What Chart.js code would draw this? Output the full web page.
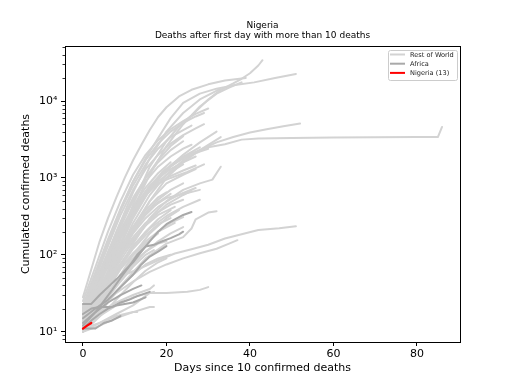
<!DOCTYPE html>
<html>
<head>
<meta charset="utf-8">
<script src="https://cdn.jsdelivr.net/npm/chart.js@4.4.1/dist/chart.umd.min.js"></script>
<style>
html, body { margin: 0; padding: 0; background: #fff; }
#wrap { width: 512px; height: 384px; }
</style>
</head>
<body>
<div id="wrap"><canvas id="myChart" width="512" height="384"></canvas></div>
<script>
// [day, cumulated deaths]
const restOfWorld = [
    [[0,12],[4,30],[8,120],[12,450],[16,1400],[20,3000],[23,4700],[26,6500],[30,10500],[33,14000],[36,17000],[38,19500],[40,23000],[42,29000],[43,34000]],
    [[0,28],[2,65],[4,150],[6,300],[8,560],[10,1000],[12,1700],[14,2700],[16,4200],[18,6200],[20,8300],[23,11500],[26,14000],[30,16500],[34,18500],[39,20000]],
    [[0,20],[3,50],[6,140],[9,380],[12,900],[15,1800],[18,3300],[21,6000],[24,9500],[28,12500],[32,14500],[36,16000],[41,17500],[46,20000],[51,22500]],
    [[0,15],[4,40],[8,130],[12,400],[16,1100],[20,2600],[24,5000],[28,8500],[32,12500],[35,15000],[38,17500]],
    [[0,18],[4,55],[8,200],[12,650],[16,1800],[20,4000],[24,7000],[28,10500],[33,14500]],
    [[0,12],[4,30],[8,90],[12,260],[16,600],[20,1100],[24,1700],[28,2300],[32,2900],[36,3400],[40,3900],[44,4300],[48,4700],[52,5100]],
    [[0,13],[4,35],[8,110],[12,320],[16,750],[19,1200],[22,1600],[26,2100],[30,2500],[34,2750],[38,3150],[42,3250],[50,3300],[60,3350],[70,3380],[80,3400],[85,3400],[86,4600]],
    [[0,20],[3,50],[6,130],[9,330],[12,700],[15,1300],[18,2000],[21,2800],[24,3600],[27,4400],[29,5000]],
    [[0,14],[4,35],[8,100],[12,300],[16,700],[20,1300],[24,2000],[28,2900],[32,4000]],
    [[0,11],[4,25],[8,70],[12,200],[16,500],[20,1000],[24,1600],[28,2300],[33,3400]],
    [[0,16],[4,45],[8,140],[12,380],[16,700],[20,1000],[24,1250],[27,1450]],
    [[0,12],[4,28],[8,80],[12,230],[16,500],[20,850],[24,1100],[27,1300]],
    [[0,10],[4,22],[8,55],[12,140],[16,300],[20,500],[24,700],[28,850],[31,950],[33,1400]],
    [[0,15],[4,35],[8,90],[12,220],[16,400],[20,550],[24,620],[28,700]],
    [[0,22],[3,45],[6,100],[9,200],[12,380],[15,600],[18,850],[21,1000],[25,1200],[29,1500]],
    [[0,13],[4,28],[8,65],[12,130],[16,220],[20,320],[24,420],[28,520]],
    [[0,11],[5,22],[10,45],[15,90],[20,140],[24,170],[26,220],[27,290],[30,355],[32,370]],
    [[0,21],[3,32],[6,42],[10,55],[14,68],[18,85],[22,104],[26,118],[30,135],[34,163],[38,185],[42,210],[47,222],[51,235]],
    [[0,12],[4,20],[8,32],[12,45],[16,60],[20,75],[24,90],[28,105],[32,120],[35,140],[37,155]],
    [[0,10],[4,13],[8,17],[12,22],[16,32],[20,32],[25,33],[28,35],[30,38]],
    [[0,10],[4,12],[8,15],[12,18],[16,21],[17,21]],
    [[0,11],[4,13],[8,16],[12,18],[13,18]],
    [[0,12],[4,16],[8,22],[12,28],[16,32],[17,33]],
    [[0,14],[4,18],[8,24],[12,30],[16,36],[17,40]],
    [[0,13],[3,30],[6,75],[9,170],[12,350],[15,600],[18,900],[21,1200],[24,1500]],
    [[0,10],[3,20],[6,45],[9,100],[12,200],[15,330],[18,480],[21,620]],
    [[0,18],[3,40],[6,100],[9,240],[12,500],[15,900],[18,1400],[21,1900],[24,2400],[26,2700]],
    [[0,12],[3,22],[6,40],[9,70],[12,120],[15,180],[18,250],[21,300]],
    [[0,15],[3,35],[6,70],[9,130],[12,230],[15,380],[18,560],[20,650]],
    [[0,11],[3,18],[6,30],[9,50],[12,80],[15,110],[18,140],[20,150]],
    [[0,20],[3,55],[6,150],[9,380],[12,800],[15,1500],[18,2400],[21,3400],[24,4200],[26,4800]],
    [[0,10],[3,16],[6,28],[9,45],[12,70],[15,100],[17,115]],
    [[0,14],[3,28],[6,55],[9,100],[12,170],[15,260],[18,360],[21,450],[24,520]],
    [[0,16],[3,40],[6,95],[9,210],[12,420],[15,750],[18,1150],[21,1600]],
    [[0,12],[3,25],[6,50],[9,95],[12,160],[15,240],[18,330],[22,420]],
    [[0,25],[3,70],[6,200],[9,500],[12,1100],[15,2000],[18,3100],[21,4300],[24,5500],[27,6800],[30,8000]],
    [[0,11],[3,18],[6,32],[9,55],[12,90],[15,140],[18,200],[21,260],[24,310]],
    [[0,13],[3,24],[6,42],[9,75],[12,130],[15,200],[18,290],[21,380]],
    [[0,17],[3,45],[6,110],[9,260],[12,550],[15,1000],[18,1600],[21,2300],[24,3000]],
    [[0,10],[3,15],[6,24],[9,38],[12,55],[15,75],[18,90],[21,100]],
    [[0,12],[3,20],[6,36],[9,65],[12,100],[15,140],[18,190]],
    [[0,19],[3,45],[6,100],[9,200],[12,380],[15,650],[18,1000],[21,1300],[24,1600],[27,1900]],
    [[0,14],[3,32],[6,75],[9,160],[12,320],[15,580],[18,950],[21,1400],[24,1900],[28,2500]],
    [[0,11],[3,22],[6,48],[9,100],[12,200],[15,350],[18,520],[21,700],[24,850]],
    [[0,10],[3,14],[6,20],[9,30],[12,44],[15,62],[18,80],[20,90]],
    [[0,15],[3,30],[6,60],[9,110],[12,190],[15,300],[18,420],[21,530],[24,640],[27,740]],
    [[0,13],[3,35],[6,90],[9,230],[12,520],[15,1000],[18,1700],[21,2600],[24,3500]],
    [[0,22],[3,60],[6,160],[9,400],[12,900],[15,1700],[18,2800],[21,4000],[24,5200],[27,6300],[29,7000]],
    [[0,12],[3,19],[6,30],[9,48],[12,75],[15,110],[18,150],[21,190],[24,230]],
    [[0,16],[3,26],[6,42],[9,68],[12,105],[15,150],[18,200],[22,260]],
    [[0,14],[4,30],[8,70],[12,150],[16,280],[20,450],[24,600],[26,680]],
    [[0,10],[4,20],[8,45],[12,100],[16,190],[20,300],[23,380]],
    [[0,18],[4,50],[8,150],[12,400],[16,800],[20,1300],[24,1800],[28,2200],[30,2400]]
];
const africa = [
    [[0,23],[2,23],[4,30],[6,38],[8,48],[10,62],[12,80],[14,110],[16,150],[18,200],[20,250],[22,290],[24,330],[26,360]],
    [[0,12],[3,18],[5,25],[7,35],[9,50],[11,70],[13,100],[15,128],[17,135],[19,150],[21,165],[23,185],[24,200]],
    [[0,15],[3,20],[6,26],[9,38],[12,55],[14,75],[16,95],[18,110],[20,130]],
    [[0,17],[2,20],[4,21],[7,21],[9,24],[11,26],[13,29],[16,33]],
    [[0,11],[2,14],[4,17],[6,20],[8,22],[10,23],[12,24],[15,28]],
    [[0,11],[3,11],[5,13],[7,14],[9,16]],
    [[0,13],[3,18],[6,24],[9,30],[12,36],[14,40]]
];
const nigeria = [[0,11],[1,12],[2,13]];

const groupNames = ['Rest of World', 'Africa', 'Nigeria (13)'];
const groupColors = ['#d3d3d3', '#a9a9a9', '#ff0000'];
const xTicks = [0, 20, 40, 60, 80];
const yTicks = [10, 100, 1000, 10000];
const sup = { 1: '\u00b9', 2: '\u00b2', 3: '\u00b3', 4: '\u2074' };

function toPoints(s) {
    return s.map(p => ({ x: p[0], y: p[1] }));
}

const datasets = [];
datasets.push({ data: toPoints(nigeria), borderColor: groupColors[2], borderWidth: 2.2, order: 0 });
africa.forEach(s => datasets.push({ data: toPoints(s), borderColor: groupColors[1], borderWidth: 2, order: 1 }));
restOfWorld.forEach(s => datasets.push({ data: toPoints(s), borderColor: groupColors[0], borderWidth: 2, order: 2 }));

const FONT = 'DejaVu Sans';

const extras = {
    id: 'extras',
    afterDraw(chart) {
        const ctx = chart.ctx;
        const a = chart.chartArea;
        const y = chart.scales.y;
        ctx.save();
        // minor ticks on the log axis
        ctx.strokeStyle = '#000';
        ctx.lineWidth = 0.8;
        for (let k = 0; k <= 4; k++) {
            for (let m = 2; m <= 9; m++) {
                const v = m * Math.pow(10, k);
                if (v < y.min || v > y.max) continue;
                const py = Math.round(y.getPixelForValue(v)) + 0.5;
                ctx.beginPath();
                ctx.moveTo(a.left - 2.5, py);
                ctx.lineTo(a.left, py);
                ctx.stroke();
            }
        }
        // frame
        ctx.lineWidth = 1;
        ctx.strokeRect(Math.round(a.left) + 0.5, Math.round(a.top) + 0.5, Math.round(a.right - a.left), Math.round(a.bottom - a.top));
        // title
        ctx.fillStyle = '#000';
        ctx.textAlign = 'center';
        ctx.textBaseline = 'middle';
        ctx.font = '9px "' + FONT + '"';
        const cx = (a.left + a.right) / 2;
        ctx.fillText('Nigeria', cx, 26);
        ctx.fillText('Deaths after first day with more than 10 deaths', cx, 36);
        // legend
        const lx = 388.5, ly = 50.5, lw = 69, lh = 30;
        ctx.fillStyle = 'rgba(255,255,255,0.8)';
        ctx.strokeStyle = '#cccccc';
        ctx.lineWidth = 1;
        ctx.beginPath();
        ctx.roundRect(lx, ly, lw, lh, 2);
        ctx.fill();
        ctx.stroke();
        ctx.font = '6.6px "' + FONT + '"';
        ctx.textAlign = 'left';
        groupNames.forEach((name, i) => {
            const ry = 54.5 + i * 9.2;
            ctx.strokeStyle = groupColors[i];
            ctx.lineWidth = 2;
            ctx.beginPath();
            ctx.moveTo(390, ry);
            ctx.lineTo(405, ry);
            ctx.stroke();
            ctx.fillStyle = '#222';
            ctx.fillText(name, 410, ry + 0.5);
        });
        ctx.restore();
    }
};

new Chart(document.getElementById('myChart'), {
    type: 'line',
    data: { datasets: datasets },
    options: {
        responsive: false,
        animation: false,
        devicePixelRatio: 1,
        layout: { padding: { top: 46, right: 52, left: 0, bottom: 0 } },
        elements: {
            point: { radius: 0 },
            line: { tension: 0, borderCapStyle: 'round', borderJoinStyle: 'round' }
        },
        plugins: {
            legend: { display: false },
            tooltip: { enabled: false }
        },
        scales: {
            x: {
                type: 'linear',
                min: -4.3,
                max: 90.3,
                afterBuildTicks: s => { s.ticks = xTicks.map(v => ({ value: v })); },
                afterFit: s => { s.height = 42; },
                grid: { display: true, drawOnChartArea: false, drawTicks: true, tickLength: 4, tickColor: '#000' },
                border: { display: false },
                ticks: { color: '#000', padding: 2, autoSkip: false, maxRotation: 0, font: { family: FONT, size: 11 } },
                title: { display: true, text: 'Days since 10 confirmed deaths', color: '#000', padding: { top: 0, bottom: 9 }, font: { family: FONT, size: 11 } }
            },
            y: {
                type: 'logarithmic',
                min: 7.35,
                max: 52000,
                afterBuildTicks: s => { s.ticks = yTicks.map(v => ({ value: v })); },
                afterFit: s => { s.width = 65; },
                grid: { display: true, drawOnChartArea: false, drawTicks: true, tickLength: 4, tickColor: '#000' },
                border: { display: false },
                ticks: {
                    color: '#000', padding: 3.5, autoSkip: false,
                    font: { family: FONT, size: 11 },
                    callback: v => '10' + sup[Math.round(Math.log10(v))]
                },
                title: { display: true, text: 'Cumulated confirmed deaths', color: '#000', padding: { top: 20, bottom: 0 }, font: { family: FONT, size: 11 } }
            }
        }
    },
    plugins: [extras]
});
</script>
</body>
</html>
